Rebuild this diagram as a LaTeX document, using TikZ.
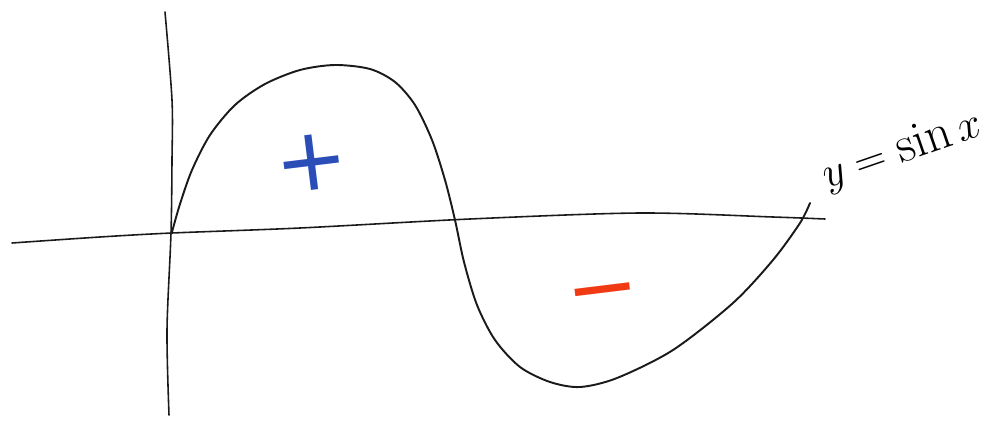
\documentclass[tikz,border=0pt]{standalone}
\usepackage{fontspec}
\usepackage{xcolor}
\usepackage{tikz}
\newfontfamily\signfont{DejaVu Sans}
\definecolor{pen}{HTML}{1A1A1A}
\definecolor{plus}{HTML}{2A4DB8}
\definecolor{minus}{HTML}{F03A14}

\begin{document}
\begin{tikzpicture}[x=0.02cm, y=-0.02cm, line cap=round, line join=round,
  axisline/.style={draw=pen, line width=0.9pt},
  wave/.style={draw=pen, line width=1.1pt},
  sign/.style={inner sep=0pt, rotate=7, font=\signfont\fontsize{50}{50}\selectfont}]
\useasboundingbox (0,0) rectangle (999,422);
% axes
\draw[axisline] plot[smooth] coordinates {(12,243) (100,237) (172,233) (300,228) (470,219) (640,213) (773,217) (825,219)};
\draw[axisline] plot[smooth] coordinates {(165,12) (172,100) (172,160) (171,233) (167,330) (169,415)};
% the curve
\draw[wave] plot[smooth, tension=0.5] coordinates {(172,232) (180,204) (192,170) (210,135) (235,105) (265,84) (300,70) (335,65) (370,69) (395,82) (415,105) (432,140) (445,180) (455,220) (464,262) (477,305) (495,340) (520,367) (550,382) (580,387) (617,378) (673,350) (733,303) (773,260) (800,223) (810,203)};
\node[sign, text=plus] (pos) at (312,163) {+};
\node[sign, text=minus] (neg) at (604,302) {−};
\node[font=\fontsize{29}{29}\selectfont, rotate=19, inner sep=0pt] (eq) at (902,150) {$y=\sin x$};
\end{tikzpicture}
\end{document}
